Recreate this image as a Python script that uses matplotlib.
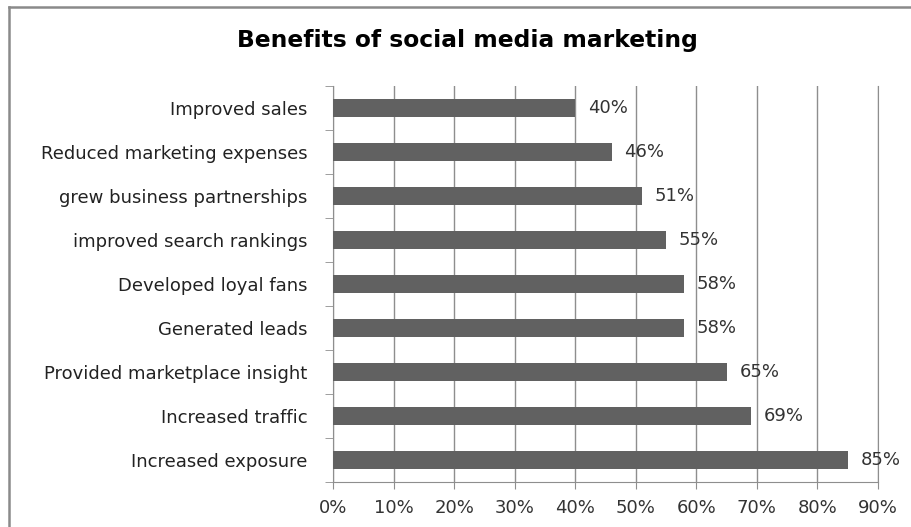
import matplotlib.pyplot as plt
from matplotlib.lines import Line2D
from matplotlib.ticker import FixedLocator, FuncFormatter

# benefit categories, listed bottom to top
benefits = ['Increased exposure', 'Increased traffic', 'Provided marketplace insight',
            'Generated leads', 'Developed loyal fans', 'improved search rankings',
            'grew business partnerships', 'Reduced marketing expenses', 'Improved sales']
shares = [85, 69, 65, 58, 58, 55, 51, 46, 40]
x_ticks = [0, 10, 20, 30, 40, 50, 60, 70, 80, 90]

bar_col = '#616161'
grid_col = '#8e8e8e'
txt_col = '#333333'

fig = plt.figure(figsize=(9.12, 5.27), dpi=100)
ax = fig.add_axes([333 / 912, 1 - 482 / 527, 545 / 912, 396 / 527])

ypos = list(range(len(benefits)))
ax.barh(ypos, shares, height=0.4, color=bar_col, zorder=3)
for y, v in zip(ypos, shares):
    ax.text(v + 2.1, y, f'{v}%', va='center', ha='left', fontsize=13,
            color=txt_col, family='DejaVu Sans', zorder=4)

ax.set_xlim(0, 90)
ax.set_ylim(-0.5, len(benefits) - 0.5)
ax.set_xticks(x_ticks)
ax.xaxis.set_major_formatter(FuncFormatter(lambda v, p: f'{v:.0f}%'))
ax.set_yticks(ypos)
ax.set_yticklabels(benefits)
ax.yaxis.set_minor_locator(FixedLocator([i - 0.5 for i in range(len(benefits) + 1)]))

ax.grid(axis='x', color=grid_col, lw=1, zorder=0)
ax.spines['top'].set_visible(False)
for side in ['left', 'bottom', 'right']:
    ax.spines[side].set_color(grid_col)
ax.tick_params(axis='y', which='major', length=0, pad=18.5, labelsize=13, labelcolor='#222222')
ax.tick_params(axis='y', which='minor', length=6, color=grid_col, direction='out')
ax.tick_params(axis='x', length=5, color=grid_col, pad=7, labelsize=13, labelcolor=txt_col)
for lab in ax.get_xticklabels() + ax.get_yticklabels():
    lab.set_family('DejaVu Sans')

fig.text(467 / 912, 1 - 41 / 527, 'Benefits of social media marketing', ha='center', va='center',
         fontsize=16.8, fontweight='bold', family='DejaVu Sans', color='black')

# chart border (top and left edges)
fig.lines.append(Line2D([9 / 912, 1], [1 - 7 / 527, 1 - 7 / 527], transform=fig.transFigure,
                        color='#8a8a8a', lw=1.8))
fig.lines.append(Line2D([9 / 912, 9 / 912], [0, 1 - 7 / 527], transform=fig.transFigure,
                        color='#8a8a8a', lw=1.8))

fig.savefig('out.png', dpi=100)
